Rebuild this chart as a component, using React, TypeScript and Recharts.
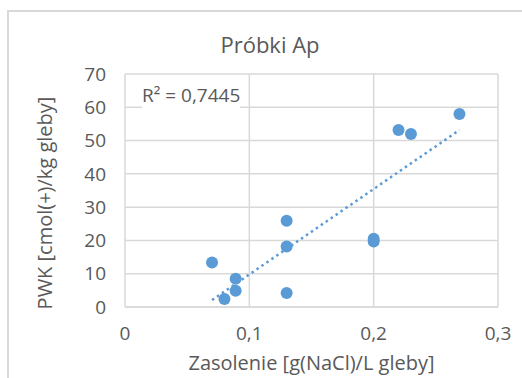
import { CartesianGrid, Scatter, ScatterChart, XAxis, YAxis } from "recharts";

const salinity = [0.07, 0.08, 0.089, 0.089, 0.13, 0.13, 0.13, 0.2, 0.2, 0.22, 0.23, 0.269];
const pwk = [13.4, 2.4, 8.5, 4.9, 25.9, 18.2, 4.2, 20.5, 19.7, 53.2, 52.0, 58.0];
const xTicks = [0, 0.1, 0.2, 0.3];
const yTicks = [0, 10, 20, 30, 40, 50, 60, 70];

const points = salinity.map((x, i) => ({ x, y: pwk[i] }));

// linear trend (least squares), drawn between min and max x
function trend() {
  const n = salinity.length;
  const mx = salinity.reduce((a, b) => a + b, 0) / n;
  const my = pwk.reduce((a, b) => a + b, 0) / n;
  let sxy = 0;
  let sxx = 0;
  salinity.forEach((x, i) => {
    sxy += (x - mx) * (pwk[i] - my);
    sxx += (x - mx) * (x - mx);
  });
  const slope = sxy / sxx;
  const b = my - slope * mx;
  const x0 = Math.min(...salinity);
  const x1 = Math.max(...salinity);
  return [
    { x: x0, y: slope * x0 + b },
    { x: x1, y: slope * x1 + b },
  ];
}

const blue = "#5b9bd5";
const grey = "#595959";
const font = "'Open Sans', sans-serif";

const fmt = (v: number) => String(v).replace(".", ",");

export default function App() {
  return (
    <div style={{ position: "absolute", left: 0, top: 0, width: 522, height: 378, overflow: "hidden", background: "#fff", fontFamily: font }}>
      <div style={{ position: "absolute", left: 7, top: 10, width: 560, height: 420, border: "2px solid #d9d9d9", boxSizing: "border-box" }} />
      <ScatterChart width={522} height={378} margin={{ top: 74, right: 24, bottom: 31, left: 0 }} style={{ position: "absolute", left: 0, top: 0 }}>
        <CartesianGrid stroke="#d9d9d9" strokeWidth={1.5} />
        <XAxis
          type="number"
          dataKey="x"
          domain={[0, 0.3]}
          ticks={xTicks}
          tickFormatter={fmt}
          height={40}
          axisLine={{ stroke: "#d9d9d9", strokeWidth: 1.5 }}
          tickLine={false}
          tickMargin={14}
          tick={{ fill: grey, fontSize: 19, fontFamily: font }}
        />
        <YAxis
          type="number"
          dataKey="y"
          domain={[0, 70]}
          ticks={yTicks}
          width={125}
          axisLine={false}
          tickLine={false}
          tickMargin={13}
          tick={{ fill: grey, fontSize: 19, fontFamily: font }}
        />
        <Scatter
          data={trend()}
          line={{ stroke: blue, strokeWidth: 2.5, strokeDasharray: "2.5 3.5" }}
          shape={() => <g />}
          isAnimationActive={false}
        />
        <Scatter data={points} fill={blue} shape={(p: any) => <circle cx={p.cx} cy={p.cy} r={6} fill={blue} />} isAnimationActive={false} />
      </ScatterChart>
      <div style={{ position: "absolute", left: 0, width: 540, top: 29, lineHeight: "30px", textAlign: "center", fontSize: 22, color: grey }}>Próbki Ap</div>
      <div style={{ position: "absolute", left: 142, top: 82, lineHeight: "26px", fontSize: 19, color: grey, background: "#fff" }}>R² = 0,7445</div>
      <div style={{ position: "absolute", left: 125, width: 373, top: 350, lineHeight: "26px", textAlign: "center", fontSize: 20, color: grey, whiteSpace: "nowrap" }}>Zasolenie [g(NaCl)/L gleby]</div>
      <div style={{ position: "absolute", left: 45 - 150, top: 203 - 13, width: 300, lineHeight: "26px", textAlign: "center", fontSize: 20, color: grey, whiteSpace: "nowrap", transform: "rotate(-90deg)" }}>PWK [cmol(+)/kg gleby]</div>
    </div>
  );
}
